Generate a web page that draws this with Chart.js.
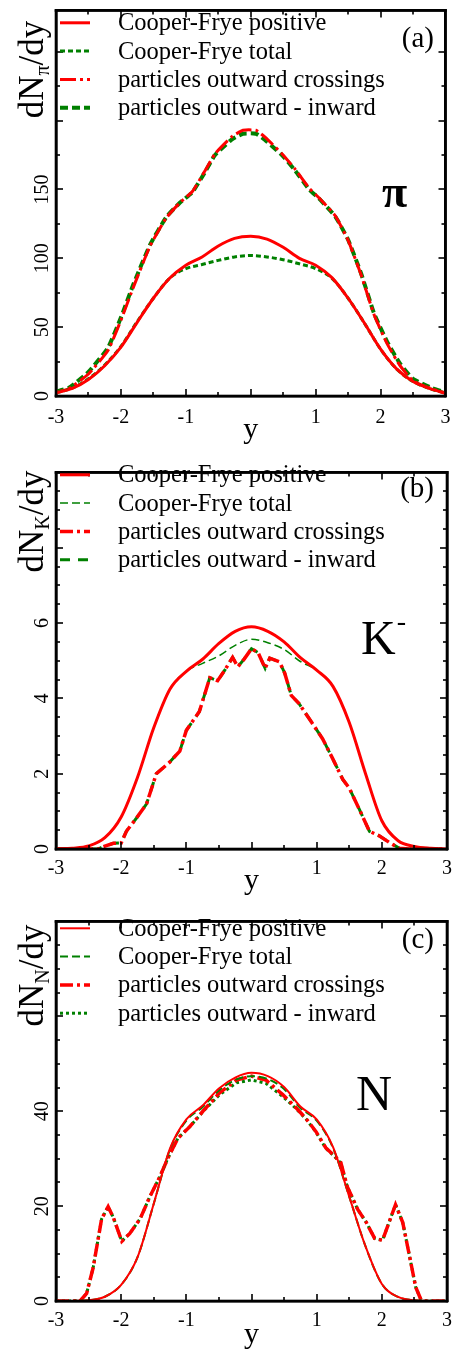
<!DOCTYPE html>
<html><head><meta charset="utf-8">
<script src="https://cdn.jsdelivr.net/npm/chart.js@4"></script>
<style>
html,body{margin:0;padding:0;background:#fff;}
#wrap{position:relative;width:460px;height:1354px;overflow:hidden;}
canvas{position:absolute;left:0;}
</style></head><body><div id="wrap">
<canvas id="ca" width="460" height="452" style="top:0px"></canvas>
<canvas id="cb" width="460" height="454" style="top:452px"></canvas>
<canvas id="cc" width="460" height="448" style="top:906px"></canvas>
</div>
<script>
// ---------- shared ----------
const seriesLabels = ['Cooper-Frye positive', 'Cooper-Frye total', 'particles outward crossings', 'particles outward - inward'];
const rapidityGrid = [-3,-2.75,-2.5,-2.25,-2,-1.75,-1.5,-1.25,-1,-0.75,-0.5,-0.25,0,0.25,0.5,0.75,1,1.25,1.5,1.75,2,2.25,2.5,2.75,3];

// ---------- panel (a): pions ----------
const piCFPositive = [2.2,5.5,12,22,35.5,53.5,71,85.5,95,101,109,114.5,116,114,108,100,95,86,71,53,34,19.5,10.5,5.5,2];
const piCFTotal    = [2.4,5.8,12.5,22.5,36,54,71,85.5,92.5,95.5,98.5,101,102,101,99,96,92.5,85.5,71,53,34,19.5,10.5,5.5,2.1];
const piPartX  = [-3,-2.8,-2.5,-2.2,-2.0,-1.8,-1.55,-1.3,-1.1,-0.9,-0.7,-0.55,-0.3,-0.12,0.08,0.22,0.48,0.68,0.9,1.05,1.3,1.5,1.7,1.9,2.1,2.3,2.5,2.78,3];
const piCross  = [2.9,5.3,16,33,55,80,109,129.5,140,148.5,164,176,188,193,193,188,176,165,151,144,131,113,88,59,38,22,11,5.3,2.2];
const piNet    = [3.2,6,17.5,35,57,82,110,130,140,148,163,175,186,190.5,190.5,186,175,164,150,143.5,130.5,113.5,89,60,39.5,23.5,12.5,6,2.6];
const piYTicks = [0,50,100,150];

// ---------- panel (b): K- ----------
const kCFPositive = [0,0.02,0.08,0.3,0.85,1.9,3.22,4.25,4.72,5.04,5.46,5.78,5.9,5.78,5.5,5.08,4.75,4.32,3.36,2.0,0.75,0.22,0.07,0.02,0];
const kCFTotal    = [0,0.02,0.08,0.3,0.85,1.9,3.22,4.25,4.72,4.93,5.13,5.41,5.57,5.48,5.3,4.98,4.75,4.32,3.36,2.0,0.75,0.22,0.07,0.02,0];
const kPartX = [-3,-2.35,-2.28,-2.12,-2.0,-1.92,-1.77,-1.61,-1.46,-1.26,-1.1,-1.0,-0.8,-0.64,-0.52,-0.41,-0.29,-0.21,-0.11,0,0.1,0.21,0.28,0.43,0.51,0.61,0.73,0.91,1.09,1.24,1.4,1.5,1.65,1.81,1.96,2.11,2.27,2.42,3];
const kCross = [0,0,0.06,0.15,0.16,0.47,0.81,1.2,2.0,2.3,2.6,3.15,3.65,4.55,4.47,4.75,5.09,4.84,5.05,5.32,5.22,4.8,5.07,4.97,4.67,4.08,3.86,3.4,2.93,2.42,1.85,1.62,1.07,0.47,0.35,0.18,0.02,0,0];
const kNet   = [0,0,0.06,0.15,0.16,0.47,0.81,1.2,2.0,2.3,2.6,3.15,3.65,4.55,4.47,4.75,5.09,4.84,5.05,5.32,5.22,4.8,5.07,4.97,4.67,4.08,3.86,3.4,2.93,2.42,1.85,1.62,1.07,0.47,0.35,0.18,0.02,0,0];
const kYTicks = [0,2,4,6];

// ---------- panel (c): nucleons ----------
const nCFPositive = [0,0.02,0.15,0.9,3.4,9.2,20.5,32.2,38.3,41.2,44.8,47.1,48.1,47.4,45.1,41.0,38.3,32.5,22,11.5,3.6,0.85,0.15,0.02,0];
const nCFTotal    = [0,0.02,0.15,0.9,3.4,9.2,20.5,32.0,38.0,40.9,44.4,46.6,47.4,46.8,44.7,40.7,38.0,32.3,22,11.5,3.6,0.85,0.15,0.02,0];
const nPartX = [-3,-2.63,-2.53,-2.43,-2.30,-2.20,-2.12,-1.99,-1.87,-1.71,-1.56,-1.41,-1.28,-1.13,-0.95,-0.74,-0.49,-0.23,0,0.22,0.48,0.68,0.84,0.99,1.14,1.27,1.37,1.47,1.63,1.76,1.89,2.01,2.21,2.32,2.42,2.52,2.60,2.66,3];
const nCross = [0,0,1.6,7.0,17.3,19.9,17.6,12.6,14.2,17.3,22.0,26.1,30.2,34.3,36.7,40.1,43.9,46.6,47.4,46.6,43.5,40.8,38.4,35.7,32.3,30.6,29.2,24.1,19.3,16.6,13.2,12.8,20.3,16.6,9.8,2.9,0.3,0,0];
const nNet   = [0,0,1.6,7.0,17.3,19.9,17.6,12.6,14.2,17.3,22.0,26.1,30.2,34.3,36.7,40.0,43.5,46.0,46.6,45.9,43.1,40.6,38.3,35.6,32.2,30.5,29.1,24.1,19.3,16.6,13.2,12.8,20.3,16.6,9.8,2.9,0.3,0,0];
const nYTicks = [0,20,40];

const xLabelTicks = [-3,-2,-1,1,2,3];

// ---------- helpers ----------
const SERIF = '"Liberation Serif", "Times New Roman", serif';
const RED = '#ff0000', GREEN = '#008000';
Chart.defaults.font.family = SERIF;
Chart.defaults.color = '#000';

function pts(xs, ys) { return xs.map((x, i) => ({x: x, y: ys[i]})); }

function ds(label, xs, ys, color, width, dash, smooth) {
  const d = {label: label, data: pts(xs, ys), borderColor: color, backgroundColor: color,
    borderWidth: width, borderDash: dash, pointRadius: 0, fill: false, borderCapStyle: 'butt'};
  if (smooth === 'mono') { d.cubicInterpolationMode = 'monotone'; }
  else { d.tension = smooth; }
  return d;
}

function drawYTitle(ctx, cx, cy, main, sub, rest, size) {
  ctx.save();
  ctx.translate(cx, cy);
  ctx.rotate(-Math.PI / 2);
  const f1 = size + 'px ' + SERIF, f2 = Math.round(size * 0.58) + 'px ' + SERIF;
  ctx.font = f1; const w1 = ctx.measureText(main).width, w3 = ctx.measureText(rest).width;
  ctx.font = f2; const w2 = ctx.measureText(sub).width;
  let x = -(w1 + w2 + w3) / 2;
  ctx.fillStyle = '#000'; ctx.textBaseline = 'alphabetic'; ctx.textAlign = 'left';
  ctx.font = f1; ctx.fillText(main, x, 0); x += w1;
  ctx.font = f2; ctx.fillText(sub, x, size * 0.17); x += w2;
  ctx.font = f1; ctx.fillText(rest, x, 0);
  ctx.restore();
}

function makeDeco(cfg) {
  return {
    id: 'deco' + cfg.key,
    afterDraw(chart) {
      const ctx = chart.ctx, xs = chart.scales.x, ys = chart.scales.y;
      const L = xs.getPixelForValue(-3), R = xs.getPixelForValue(3);
      const T = ys.getPixelForValue(cfg.yMax), B = ys.getPixelForValue(0);
      ctx.save();
      ctx.fillStyle = '#000';
      // inward tick marks on all four sides
      xs.ticks.forEach(t => {
        const v = t.value; if (v <= -3 || v >= 3) return;
        const p = Math.round(xs.getPixelForValue(v));
        const len = Number.isInteger(v) ? 7 : 4;
        ctx.fillRect(p - 0.8, B - len, 1.6, len);
        ctx.fillRect(p - 0.8, T, 1.6, len);
      });
      ys.ticks.forEach(t => {
        const v = t.value; if (v <= 0 || v >= cfg.yMax) return;
        const p = Math.round(ys.getPixelForValue(v));
        const r = v / cfg.major, len = Math.abs(r - Math.round(r)) < 1e-6 ? 7 : 4;
        ctx.fillRect(L, p - 0.8, len, 1.6);
        ctx.fillRect(R - len, p - 0.8, len, 1.6);
      });
      // frame (2.6 px black)
      const w = 2.6, h = w / 2;
      ctx.fillRect(L - h, T - h, R - L + w, w);
      ctx.fillRect(L - h, B - h, R - L + w, w);
      ctx.fillRect(L - h, T - h, w, B - T + w);
      ctx.fillRect(R - h, T - h, w, B - T + w);
      // legend
      chart.data.datasets.forEach((d, i) => {
        const y = cfg.legTop + i * 28.3;
        ctx.strokeStyle = d.borderColor; ctx.lineWidth = d.borderWidth;
        ctx.setLineDash(d.borderDash || []);
        ctx.beginPath(); ctx.moveTo(60, y); ctx.lineTo(90, y); ctx.stroke();
        ctx.setLineDash([]);
        ctx.fillStyle = '#000'; ctx.font = '24.5px ' + SERIF;
        ctx.textAlign = 'left'; ctx.textBaseline = 'middle';
        ctx.fillText(d.label, 118, y + 1);
      });
      // panel tag
      ctx.fillStyle = '#000';
      ctx.font = '29px ' + SERIF; ctx.textAlign = 'right'; ctx.textBaseline = 'alphabetic';
      ctx.fillText(cfg.tag, 434, cfg.tagY);
      // particle name
      ctx.textAlign = 'left';
      ctx.font = cfg.pFont + ' ' + SERIF;
      ctx.fillText(cfg.pName, cfg.pX, cfg.pY);
      if (cfg.pSup) {
        const wn = ctx.measureText(cfg.pName).width;
        ctx.font = '28px ' + SERIF;
        ctx.fillText(cfg.pSup, cfg.pX + wn + 1, cfg.pY - 24);
      }
      // y title
      drawYTitle(ctx, 43, 69.5, 'dN', cfg.sub, '/dy', 35);
      ctx.restore();
    }
  };
}

function makeChart(id, cfg) {
  const el = document.getElementById(id);
  const border = {display: true, color: '#000', width: 2.6};
  const grid = {display: true, drawOnChartArea: false, drawTicks: false, color: 'rgba(0,0,0,0)'};
  return new Chart(el, {
    type: 'line',
    data: {datasets: cfg.datasets},
    options: {
      responsive: false, animation: false, devicePixelRatio: 1,
      layout: {padding: {top: cfg.padTop, left: 0, right: 12, bottom: 0}},
      plugins: {legend: {display: false}, tooltip: {enabled: false}, title: {display: false}},
      elements: {point: {radius: 0}},
      scales: {
        x: {
          type: 'linear', min: -3, max: 3,
          grid: grid, border: border,
          ticks: {stepSize: 0.5, autoSkip: false, maxRotation: 0, minRotation: 0, padding: cfg.xPad,
            font: {size: 20, family: SERIF}, color: '#000',
            callback: v => xLabelTicks.includes(v) ? String(v) : ''},
          title: {display: true, text: 'y', color: '#000', font: {size: 30, family: SERIF},
            padding: {top: 0, bottom: cfg.titlePad}},
          afterFit: s => { s.height = cfg.xH; }
        },
        xTop: {
          type: 'linear', position: 'top', min: -3, max: 3,
          grid: grid, border: border,
          ticks: {display: false},
          afterFit: s => { s.height = 0; }
        },
        y: {
          type: 'linear', min: 0, max: cfg.yMax,
          grid: grid, border: border,
          ticks: {stepSize: cfg.yStep, autoSkip: false, minRotation: 90, maxRotation: 90,
            crossAlign: 'center', padding: cfg.yPad,
            font: {size: 20, family: SERIF}, color: '#000',
            callback: v => cfg.yLabels.includes(v) ? String(v) : ''},
          afterFit: s => { s.width = 56; }
        },
        yRight: {
          type: 'linear', position: 'right', min: 0, max: cfg.yMax,
          grid: grid, border: border,
          ticks: {display: false},
          afterFit: s => { s.width = 0; }
        }
      }
    },
    plugins: [makeDeco(cfg)]
  });
}

// ---------- build panels ----------
makeChart('ca', {
  key: 'A', tag: '(a)', tagY: 47, pName: 'π', pFont: 'bold 46px', pX: 382, pY: 207, sub: 'π',
  legTop: 22.8, major: 50, yMax: 280, yStep: 25, yLabels: piYTicks, yPad: -1.5,
  padTop: 5, xH: 56, xPad: 9.5, titlePad: 4,
  datasets: [
    ds(seriesLabels[0], rapidityGrid, piCFPositive, RED, 3, [], 'mono'),
    ds(seriesLabels[1], rapidityGrid, piCFTotal, GREEN, 3, [5, 3], 'mono'),
    ds(seriesLabels[2], piPartX, piCross, RED, 3, [16, 4, 3, 4], 0.15),
    ds(seriesLabels[3], piPartX, piNet, GREEN, 4, [8, 4], 0.15)
  ]
});
makeChart('cb', {
  key: 'B', tag: '(b)', tagY: 44.5, pName: 'K', pSup: '-', pFont: '48px', pX: 361, pY: 202, sub: 'K',
  legTop: 22.8, major: 2, yMax: 10, yStep: 0.5, yLabels: kYTicks, yPad: 8.5,
  padTop: 4, xH: 57, xPad: 8, titlePad: 6.6,
  datasets: [
    ds(seriesLabels[0], rapidityGrid, kCFPositive, RED, 3, [], 'mono'),
    ds(seriesLabels[1], rapidityGrid, kCFTotal, GREEN, 1.5, [8, 4], 'mono'),
    ds(seriesLabels[2], kPartX, kCross, RED, 3.5, [13, 4, 3, 4], 0),
    ds(seriesLabels[3], kPartX, kNet, GREEN, 3, [10, 8], 0)
  ]
});
makeChart('cc', {
  key: 'C', tag: '(c)', tagY: 42, pName: 'N', pFont: '50px', pX: 356, pY: 204, sub: 'N',
  legTop: 22.3, major: 20, yMax: 80, yStep: 5, yLabels: nYTicks, yPad: 3.5,
  padTop: 6, xH: 53, xPad: 8, titlePad: 1,
  datasets: [
    ds(seriesLabels[0], rapidityGrid, nCFPositive, RED, 2, [], 'mono'),
    ds(seriesLabels[1], rapidityGrid, nCFTotal, GREEN, 2, [8, 4], 'mono'),
    ds(seriesLabels[2], nPartX, nCross, RED, 3.5, [13, 4, 3, 4], 0),
    ds(seriesLabels[3], nPartX, nNet, GREEN, 3, [3, 3], 0)
  ]
});
</script>
</body></html>
